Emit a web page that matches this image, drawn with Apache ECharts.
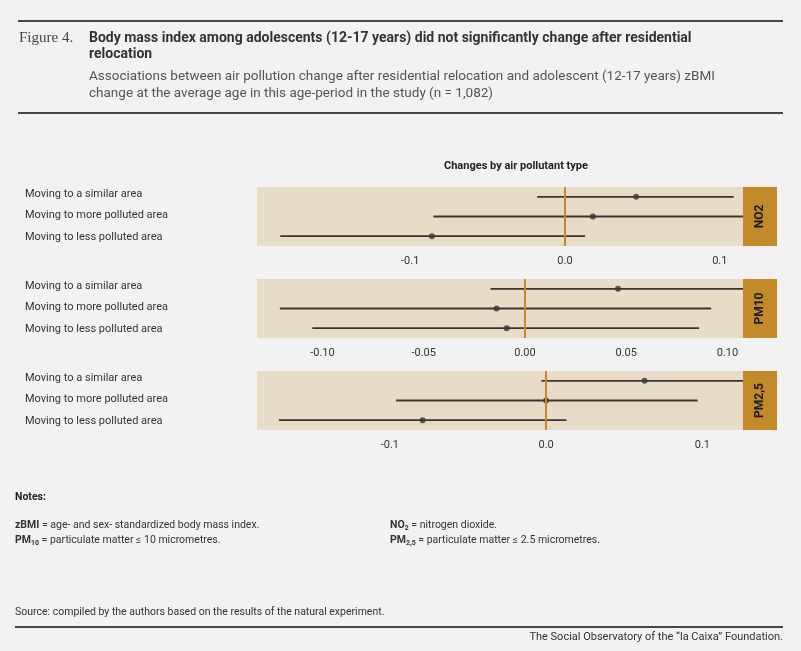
<!DOCTYPE html>
<html>
<head>
<meta charset="utf-8">
<script src="https://cdn.jsdelivr.net/npm/echarts@6/dist/echarts.min.js"></script>
<style>
  html, body { margin: 0; padding: 0; background: #f2f2f2; }
  #chart { width: 801px; height: 651px; }
</style>
</head>
<body>
<div id="chart"></div>
<script>
// rows, top to bottom
const rowLabels = ['Moving to a similar area', 'Moving to more polluted area', 'Moving to less polluted area'];
const pollutants = ['NO2', 'PM10', 'PM2,5'];

// estimates and 95% CI per pollutant, same row order
const no2Est = [0.046, 0.018, -0.086];
const no2Low = [-0.018, -0.085, -0.184];
const no2High = [0.109, 0.13, 0.013];

const pm10Est = [0.046, -0.014, -0.009];
const pm10Low = [-0.017, -0.121, -0.105];
const pm10High = [0.115, 0.092, 0.086];

const pm25Est = [0.063, 0.0, -0.079];
const pm25Low = [-0.003, -0.096, -0.171];
const pm25High = [0.13, 0.097, 0.013];

// tick labels per panel
const no2Ticks = [-0.1, 0, 0.1];
const pm10Ticks = [-0.1, -0.05, 0, 0.05, 0.1];
const pm25Ticks = [-0.1, 0, 0.1];

const xRanges = [[-0.199, 0.115], [-0.1323, 0.1077], [-0.185, 0.126]];
const tickDigits = [1, 2, 1];

const panels = [
  { est: no2Est, low: no2Low, high: no2High, ticks: no2Ticks },
  { est: pm10Est, low: pm10Low, high: pm10High, ticks: pm10Ticks },
  { est: pm25Est, low: pm25Low, high: pm25High, ticks: pm25Ticks }
];

const gridTops = [187, 279, 371];
const gridLeft = 257, gridW = 486, gridH = 59;
const dark = '#3a3530';
const gold = '#c38a2a';
const font = 'Roboto, "Noto Sans", sans-serif';

const chart = echarts.init(document.getElementById('chart'));

const grids = [], xAxes = [], yAxes = [], series = [], graphics = [];

panels.forEach((p, i) => {
  grids.push({ left: gridLeft, top: gridTops[i], width: gridW, height: gridH,
    show: true, backgroundColor: '#e8dbc8', borderWidth: 0 });
  xAxes.push({
    type: 'value', gridIndex: i, min: xRanges[i][0], max: xRanges[i][1],
    axisLine: { show: false }, axisTick: { show: false }, splitLine: { show: false },
    axisLabel: {
      color: '#333', fontFamily: font, fontSize: 11, margin: 10,
      customValues: p.ticks,
      formatter: v => v.toFixed(tickDigits[i])
    }
  });
  yAxes.push({ type: 'category', gridIndex: i, data: rowLabels, inverse: true, show: false });

  series.push({
    type: 'custom', xAxisIndex: i, yAxisIndex: i, clip: true,
    data: rowLabels.map((r, k) => [p.low[k], p.high[k], k]),
    renderItem: (params, api) => {
      const a = api.coord([api.value(0), api.value(2)]);
      const b = api.coord([api.value(1), api.value(2)]);
      return { type: 'line', shape: { x1: a[0], y1: a[1], x2: b[0], y2: b[1] },
        style: { stroke: dark, lineWidth: 1.8 } };
    },
    markLine: {
      silent: true, symbol: 'none', label: { show: false },
      lineStyle: { color: gold, width: 2, type: 'solid' },
      data: [{ xAxis: 0 }]
    },
    z: 3
  });
  series.push({
    type: 'scatter', xAxisIndex: i, yAxisIndex: i,
    data: rowLabels.map((r, k) => [p.est[k], k]),
    symbolSize: 6, itemStyle: { color: dark }, z: 4
  });

  // facet strip
  graphics.push({ type: 'rect', shape: { x: 743, y: gridTops[i], width: 34, height: gridH },
    style: { fill: gold }, z: 10 });
  graphics.push({ type: 'text', x: 760, y: gridTops[i] + gridH / 2, rotation: Math.PI / 2,
    style: { text: pollutants[i], fill: '#1a1a1a', font: 'bold 12px ' + font,
      align: 'center', verticalAlign: 'middle' }, z: 11 });
  // row labels
  rowLabels.forEach((r, k) => {
    graphics.push({ type: 'text', x: 25, y: gridTops[i] + 7 + k * 21.5,
      style: { text: r, fill: '#333', font: '11px ' + font, verticalAlign: 'middle' } });
  });
});

const subRich = {
  b: { fontWeight: 'bold', fontSize: 10.5, fontFamily: font },
  s: { fontWeight: 'bold', fontSize: 7, fontFamily: font, padding: [6, 0, 0, 0] }
};

// header, notes and footer
graphics.push(
  { type: 'rect', shape: { x: 18, y: 20, width: 765, height: 2 }, style: { fill: '#4a4540' } },
  { type: 'rect', shape: { x: 18, y: 112, width: 765, height: 2 }, style: { fill: '#4a4540' } },
  { type: 'text', x: 19, y: 38, style: { text: 'Figure 4.', fill: '#444',
      font: '15px "Liberation Serif", "DejaVu Serif", serif', verticalAlign: 'middle' } },
  { type: 'text', x: 89, y: 38, style: { text: 'Body mass index among adolescents (12-17 years) did not significantly change after residential',
      fill: '#333', font: 'bold 14px ' + font, verticalAlign: 'middle' } },
  { type: 'text', x: 89, y: 54, style: { text: 'relocation', fill: '#333', font: 'bold 14px ' + font, verticalAlign: 'middle' } },
  { type: 'text', x: 89, y: 77, style: { text: 'Associations between air pollution change after residential relocation and adolescent (12-17 years) zBMI',
      fill: '#555', font: '13.5px ' + font, verticalAlign: 'middle' } },
  { type: 'text', x: 89, y: 94, style: { text: 'change at the average age in this age-period in the study (n = 1,082)',
      fill: '#555', font: '13.5px ' + font, verticalAlign: 'middle' } },
  { type: 'text', x: 516, y: 166, style: { text: 'Changes by air pollutant type', fill: '#222',
      font: 'bold 11px ' + font, align: 'center', verticalAlign: 'middle' } },
  { type: 'text', x: 15, y: 497, style: { text: 'Notes:', fill: '#222', font: 'bold 10.5px ' + font, verticalAlign: 'middle' } },
  { type: 'text', x: 15, y: 525, style: {
      text: '{b|zBMI} = age- and sex- standardized body mass index.',
      fill: '#333', font: '10.5px ' + font, verticalAlign: 'middle', rich: subRich } },
  { type: 'text', x: 15, y: 540, style: {
      text: '{b|PM}{s|10} = particulate matter ≤ 10 micrometres.',
      fill: '#333', font: '10.5px ' + font, verticalAlign: 'middle', rich: subRich } },
  { type: 'text', x: 390, y: 525, style: {
      text: '{b|NO}{s|2} = nitrogen dioxide.',
      fill: '#333', font: '10.5px ' + font, verticalAlign: 'middle', rich: subRich } },
  { type: 'text', x: 390, y: 540, style: {
      text: '{b|PM}{s|2,5} = particulate matter ≤ 2.5 micrometres.',
      fill: '#333', font: '10.5px ' + font, verticalAlign: 'middle', rich: subRich } },
  { type: 'text', x: 15, y: 612, style: { text: 'Source: compiled by the authors based on the results of the natural experiment.',
      fill: '#333', font: '10.5px ' + font, verticalAlign: 'middle' } },
  { type: 'rect', shape: { x: 15, y: 626, width: 768, height: 2 }, style: { fill: '#4a4540' } },
  { type: 'text', x: 783, y: 637, style: { text: 'The Social Observatory of the “la Caixa” Foundation.',
      fill: '#333', font: '11px ' + font, align: 'right', verticalAlign: 'middle' } }
);

chart.setOption({
  backgroundColor: '#f2f2f2',
  animation: false,
  grid: grids,
  xAxis: xAxes,
  yAxis: yAxes,
  series: series,
  graphic: graphics
});
</script>
</body>
</html>
